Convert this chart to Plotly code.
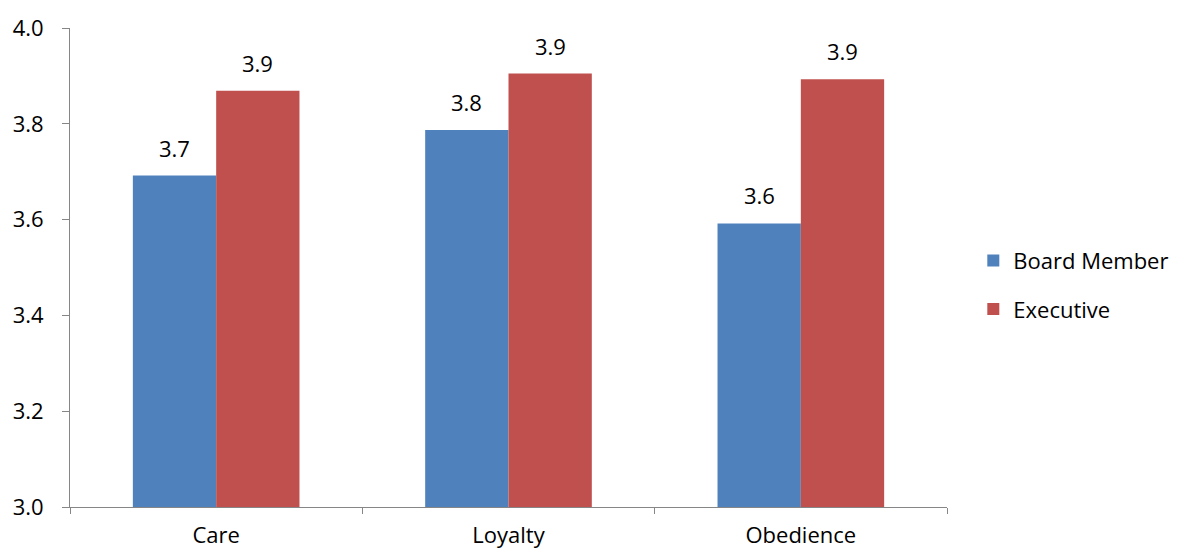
import plotly.graph_objects as go

categories = ["Care", "Loyalty", "Obedience"]
board_member = [3.692, 3.787, 3.592]
executive = [3.869, 3.905, 3.893]
y_ticks = [3.0, 3.2, 3.4, 3.6, 3.8, 4.0]

series = [
    ("Board Member", board_member, "#4F81BD"),
    ("Executive", executive, "#C0504D"),
]

FONT = "Open Sans"
FSIZE = 22
AXIS_GREY = "#868686"
BARGAP = 0.43

fig = go.Figure()
for i, (name, vals, color) in enumerate(series):
    fig.add_trace(go.Bar(
        name=name,
        x=categories,
        y=vals,
        marker=dict(color=color, line=dict(width=0)),
        legendgroup=name,
    ))

# value labels above each bar, offset to the bar's slot inside the group
slot = (1 - BARGAP) / len(series)
for i, (name, vals, color) in enumerate(series):
    offset = -(1 - BARGAP) / 2 + slot * (i + 0.5)
    for j, v in enumerate(vals):
        fig.add_annotation(
            x=j + offset, y=v, text=f"{v:.1f}",
            showarrow=False, yanchor="bottom", yshift=11,
            font=dict(family=FONT, size=FSIZE, color="#000000"),
        )

fig.update_layout(
    width=1178, height=552,
    margin=dict(l=70, r=231, t=28, b=45, autoexpand=False),
    paper_bgcolor="white", plot_bgcolor="white",
    barmode="group", bargap=BARGAP, bargroupgap=0,
    font=dict(family=FONT, size=FSIZE, color="#000000"),
    showlegend=True,
    legend=dict(
        x=1.030, y=0.463, xanchor="left", yanchor="middle",
        font=dict(family=FONT, size=FSIZE, color="#000000"),
        tracegroupgap=17, traceorder="grouped",
        bgcolor="rgba(0,0,0,0)",
    ),
)

fig.update_xaxes(
    type="category",
    showline=True, linecolor=AXIS_GREY, linewidth=1,
    ticks="outside", tickson="boundaries", ticklen=6, tickcolor=AXIS_GREY,
    showgrid=False, zeroline=False,
    ticklabelstandoff=9,
    tickfont=dict(family=FONT, size=FSIZE, color="#000000"),
    automargin=False,
)
fig.update_yaxes(
    range=[3.0, 4.0],
    tickvals=y_ticks, ticktext=[f"{t:.1f}" for t in y_ticks],
    showline=True, linecolor=AXIS_GREY, linewidth=1,
    ticks="outside", ticklen=7, tickcolor=AXIS_GREY,
    showgrid=False, zeroline=False,
    ticklabelstandoff=14,
    tickfont=dict(family=FONT, size=FSIZE, color="#000000"),
    automargin=False,
)

fig.write_html("out.html")
